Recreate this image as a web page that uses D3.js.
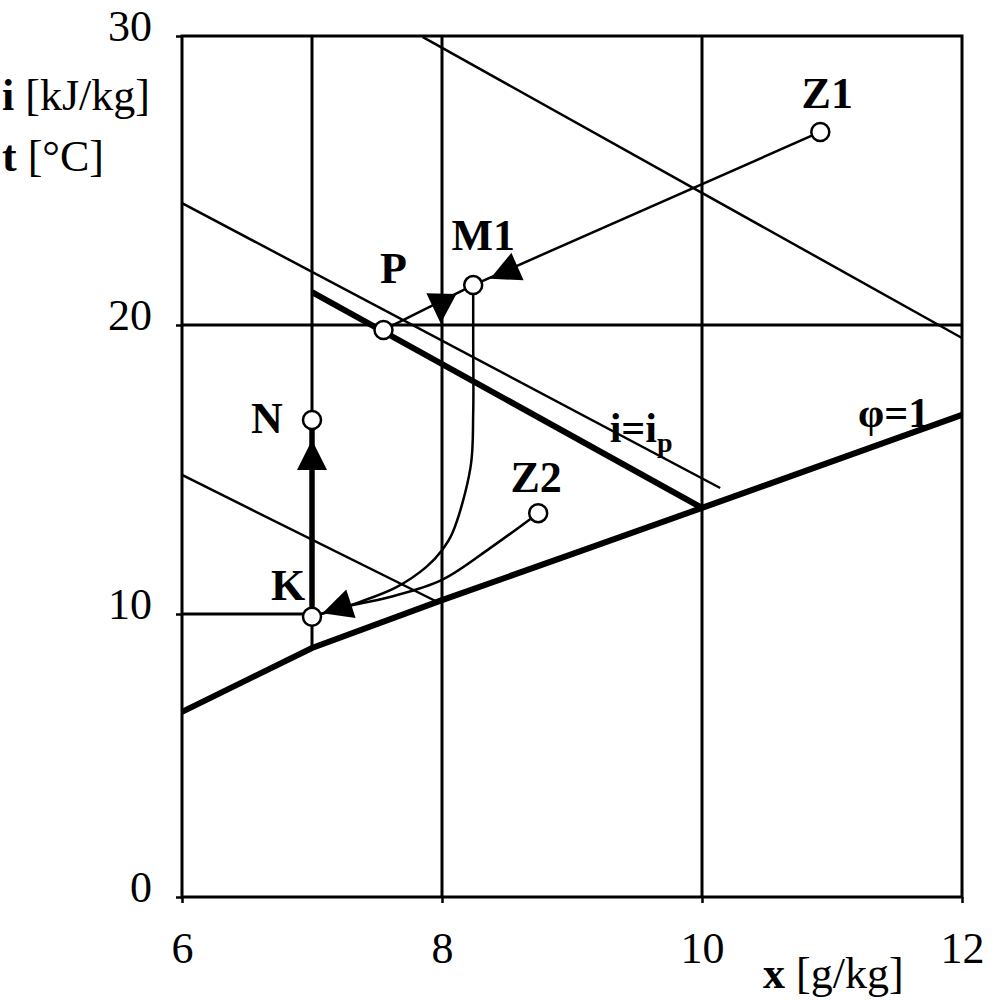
<!DOCTYPE html>
<html>
  <body style="margin:0;background:#fff">
    <div id="chart"></div>
    <script src="https://cdn.jsdelivr.net/npm/d3@7"></script>
    <script>
// i-x (Mollier) diagram: mixing and cooling of moist air
var width = 1000;
var height = 1000;

// axis ticks
var xTicks = [6, 8, 10, 12];
var yTicks = [0, 10, 20, 30];

// state points [x g/kg, i/t]
var pointNames = ["Z1", "M1", "P", "N", "K", "Z2"];
var pointX = [10.91, 8.24, 7.55, 7.0, 7.0, 8.74];
var pointY = [26.68, 21.38, 19.83, 16.71, 9.9, 13.49];

// saturation curve phi = 1
var phiX = [6, 7, 8, 9, 10, 12];
var phiY = [6.54, 8.8, 10.48, 12.07, 13.67, 16.89];

// thin constant enthalpy lines
var isoLines = [
  [[7.85, 29.97], [12, 19.55]],
  [[6, 24.22], [10.14, 14.36]],
  [[6, 14.81], [7.95, 10.45]]
];

// thick i = ip line
var ipLine = [[7, 21.14], [10, 13.67]];

// curve M1 -> K
var curveM1K = [[8.24, 21.38], [8.24, 19.5], [8.24, 16.96], [8.22, 15.09], [8.08, 12.8],
  [8.0, 12.21], [7.88, 11.63], [7.65, 10.93], [7.37, 10.42], [7.06, 9.98]];

// curve Z2 -> K
var curveZ2K = [[8.74, 13.49], [8.37, 12.28], [8.0, 11.18], [7.6, 10.59], [7.22, 10.21], [7.0, 9.9]];

// arrowheads: tip and a point behind it
var arrowTips = [[8.37, 21.6], [7.99, 20.05], [7.0, 16.02], [7.08, 10.03]];
var arrowFrom = [[10.91, 26.68], [8.0, 22.0], [7.0, 9.9], [7.4, 10.5]];

var x = d3.scaleLinear().domain([6, 12]).range([182, 962]);
var y = d3.scaleLinear().domain([0, 10, 30]).range([897, 614, 36]);

var svg = d3.select("#chart").append("svg")
  .attr("width", width)
  .attr("height", height)
  .style("font-family", "'Liberation Serif', 'Times New Roman', serif");

var line = d3.line().x(d => x(d[0])).y(d => y(d[1]));

// grid lines
var grid = svg.append("g").attr("stroke", "#000").attr("stroke-width", 3);
grid.append("line").attr("x1", x(6)).attr("x2", x(12)).attr("y1", y(20)).attr("y2", y(20));
grid.append("line").attr("x1", x(6)).attr("x2", x(7)).attr("y1", y(10)).attr("y2", y(10));
[8, 10].forEach(v => {
  grid.append("line").attr("x1", x(v)).attr("x2", x(v)).attr("y1", y(0)).attr("y2", y(30));
});
grid.append("line").attr("x1", x(7)).attr("x2", x(7)).attr("y1", y(30)).attr("y2", y(8.8));

// enthalpy lines
svg.append("g").selectAll("path")
  .data(isoLines)
  .join("path")
  .attr("d", line)
  .attr("fill", "none")
  .attr("stroke", "#000")
  .attr("stroke-width", 2.5);

// process lines
var thin = svg.append("g").attr("fill", "none").attr("stroke", "#000").attr("stroke-width", 2.5);
thin.append("path").attr("d", line([[pointX[0], pointY[0]], [pointX[1], pointY[1]]]));
thin.append("path").attr("d", line([[pointX[1], pointY[1]], [pointX[2], pointY[2]]]));
thin.append("path").attr("d", d3.line().x(d => x(d[0])).y(d => y(d[1])).curve(d3.curveCatmullRom)(curveM1K));
thin.append("path").attr("d", d3.line().x(d => x(d[0])).y(d => y(d[1])).curve(d3.curveCatmullRom)(curveZ2K));

// thick lines
svg.append("path").attr("d", line(ipLine))
  .attr("fill", "none").attr("stroke", "#000").attr("stroke-width", 6);
svg.append("path").attr("d", line(phiX.map((v, i) => [v, phiY[i]])))
  .attr("fill", "none").attr("stroke", "#000").attr("stroke-width", 6);
svg.append("path").attr("d", line([[pointX[4], pointY[4]], [pointX[3], pointY[3]]]))
  .attr("fill", "none").attr("stroke", "#000").attr("stroke-width", 5.5);

// arrowheads
function arrowPath(tip, from, len, hw) {
  var tx = x(tip[0]), ty = y(tip[1]);
  var dx = tx - x(from[0]), dy = ty - y(from[1]);
  var l = Math.hypot(dx, dy);
  dx /= l; dy /= l;
  var bx = tx - dx * len, by = ty - dy * len;
  return "M" + tx + "," + ty +
    "L" + (bx - dy * hw) + "," + (by + dx * hw) +
    "L" + (bx + dy * hw) + "," + (by - dx * hw) + "Z";
}
svg.append("g").selectAll("path")
  .data(arrowTips)
  .join("path")
  .attr("d", (d, i) => arrowPath(d, arrowFrom[i], 30, 15))
  .attr("fill", "#000");

// frame
svg.append("rect")
  .attr("x", x(6)).attr("y", y(30))
  .attr("width", x(12) - x(6)).attr("height", y(0) - y(30))
  .attr("fill", "none").attr("stroke", "#000").attr("stroke-width", 3);

// axes
var xAxis = svg.append("g")
  .attr("transform", "translate(0," + y(0) + ")")
  .call(d3.axisBottom(x).tickValues(xTicks).tickSize(6).tickFormat(d3.format("d")));
xAxis.select(".domain").remove();
xAxis.selectAll("line").attr("stroke-width", 2.5);
xAxis.selectAll("text").attr("y", 66).attr("dy", 0)
  .style("font-size", "44px").style("font-family", "'Liberation Serif', serif").attr("fill", "#000");

var yAxis = svg.append("g")
  .attr("transform", "translate(" + x(6) + ",0)")
  .call(d3.axisLeft(y).tickValues(yTicks).tickSize(6).tickFormat(d3.format("d")));
yAxis.select(".domain").remove();
yAxis.selectAll("line").attr("stroke-width", 2.5);
yAxis.selectAll("text").attr("x", -30).attr("dy", "0.1em")
  .style("font-size", "44px").style("font-family", "'Liberation Serif', serif").attr("fill", "#000");

// axis titles
var t1 = svg.append("text").attr("x", 2).attr("y", 110).style("font-size", "44px");
t1.append("tspan").attr("font-weight", "bold").text("i");
t1.append("tspan").text(" [kJ/kg]");
var t2 = svg.append("text").attr("x", 2).attr("y", 171).style("font-size", "44px");
t2.append("tspan").attr("font-weight", "bold").text("t");
t2.append("tspan").text(" [°C]");
var t3 = svg.append("text").attr("x", 763).attr("y", 988).style("font-size", "44px");
t3.append("tspan").attr("font-weight", "bold").text("x");
t3.append("tspan").text(" [g/kg]");

// points
svg.append("g").selectAll("circle")
  .data(pointNames)
  .join("circle")
  .attr("cx", (d, i) => x(pointX[i]))
  .attr("cy", (d, i) => y(pointY[i]))
  .attr("r", 9)
  .attr("fill", "#fff")
  .attr("stroke", "#000")
  .attr("stroke-width", 2.5);

// point labels
var labelOffset = {
  "Z1": [7, -24], "M1": [10, -35], "P": [10, -47],
  "N": [-45, 13], "K": [-24, -17], "Z2": [-2, -21]
};
svg.append("g").selectAll("text")
  .data(pointNames)
  .join("text")
  .attr("x", (d, i) => x(pointX[i]) + labelOffset[d][0])
  .attr("y", (d, i) => y(pointY[i]) + labelOffset[d][1])
  .attr("text-anchor", "middle")
  .attr("font-weight", "bold")
  .style("font-size", "44px")
  .text(d => d);

// line labels
var ip = svg.append("text")
  .attr("x", x(9.29)).attr("y", y(15.95))
  .attr("font-weight", "bold").style("font-size", "42px");
ip.append("tspan").text("i=i");
ip.append("tspan").attr("dy", 10).style("font-size", "28px").text("p");

svg.append("text")
  .attr("x", x(11.2)).attr("y", y(16.47))
  .attr("font-weight", "bold").style("font-size", "42px")
  .text("φ=1");
</script>
  </body>
</html>
